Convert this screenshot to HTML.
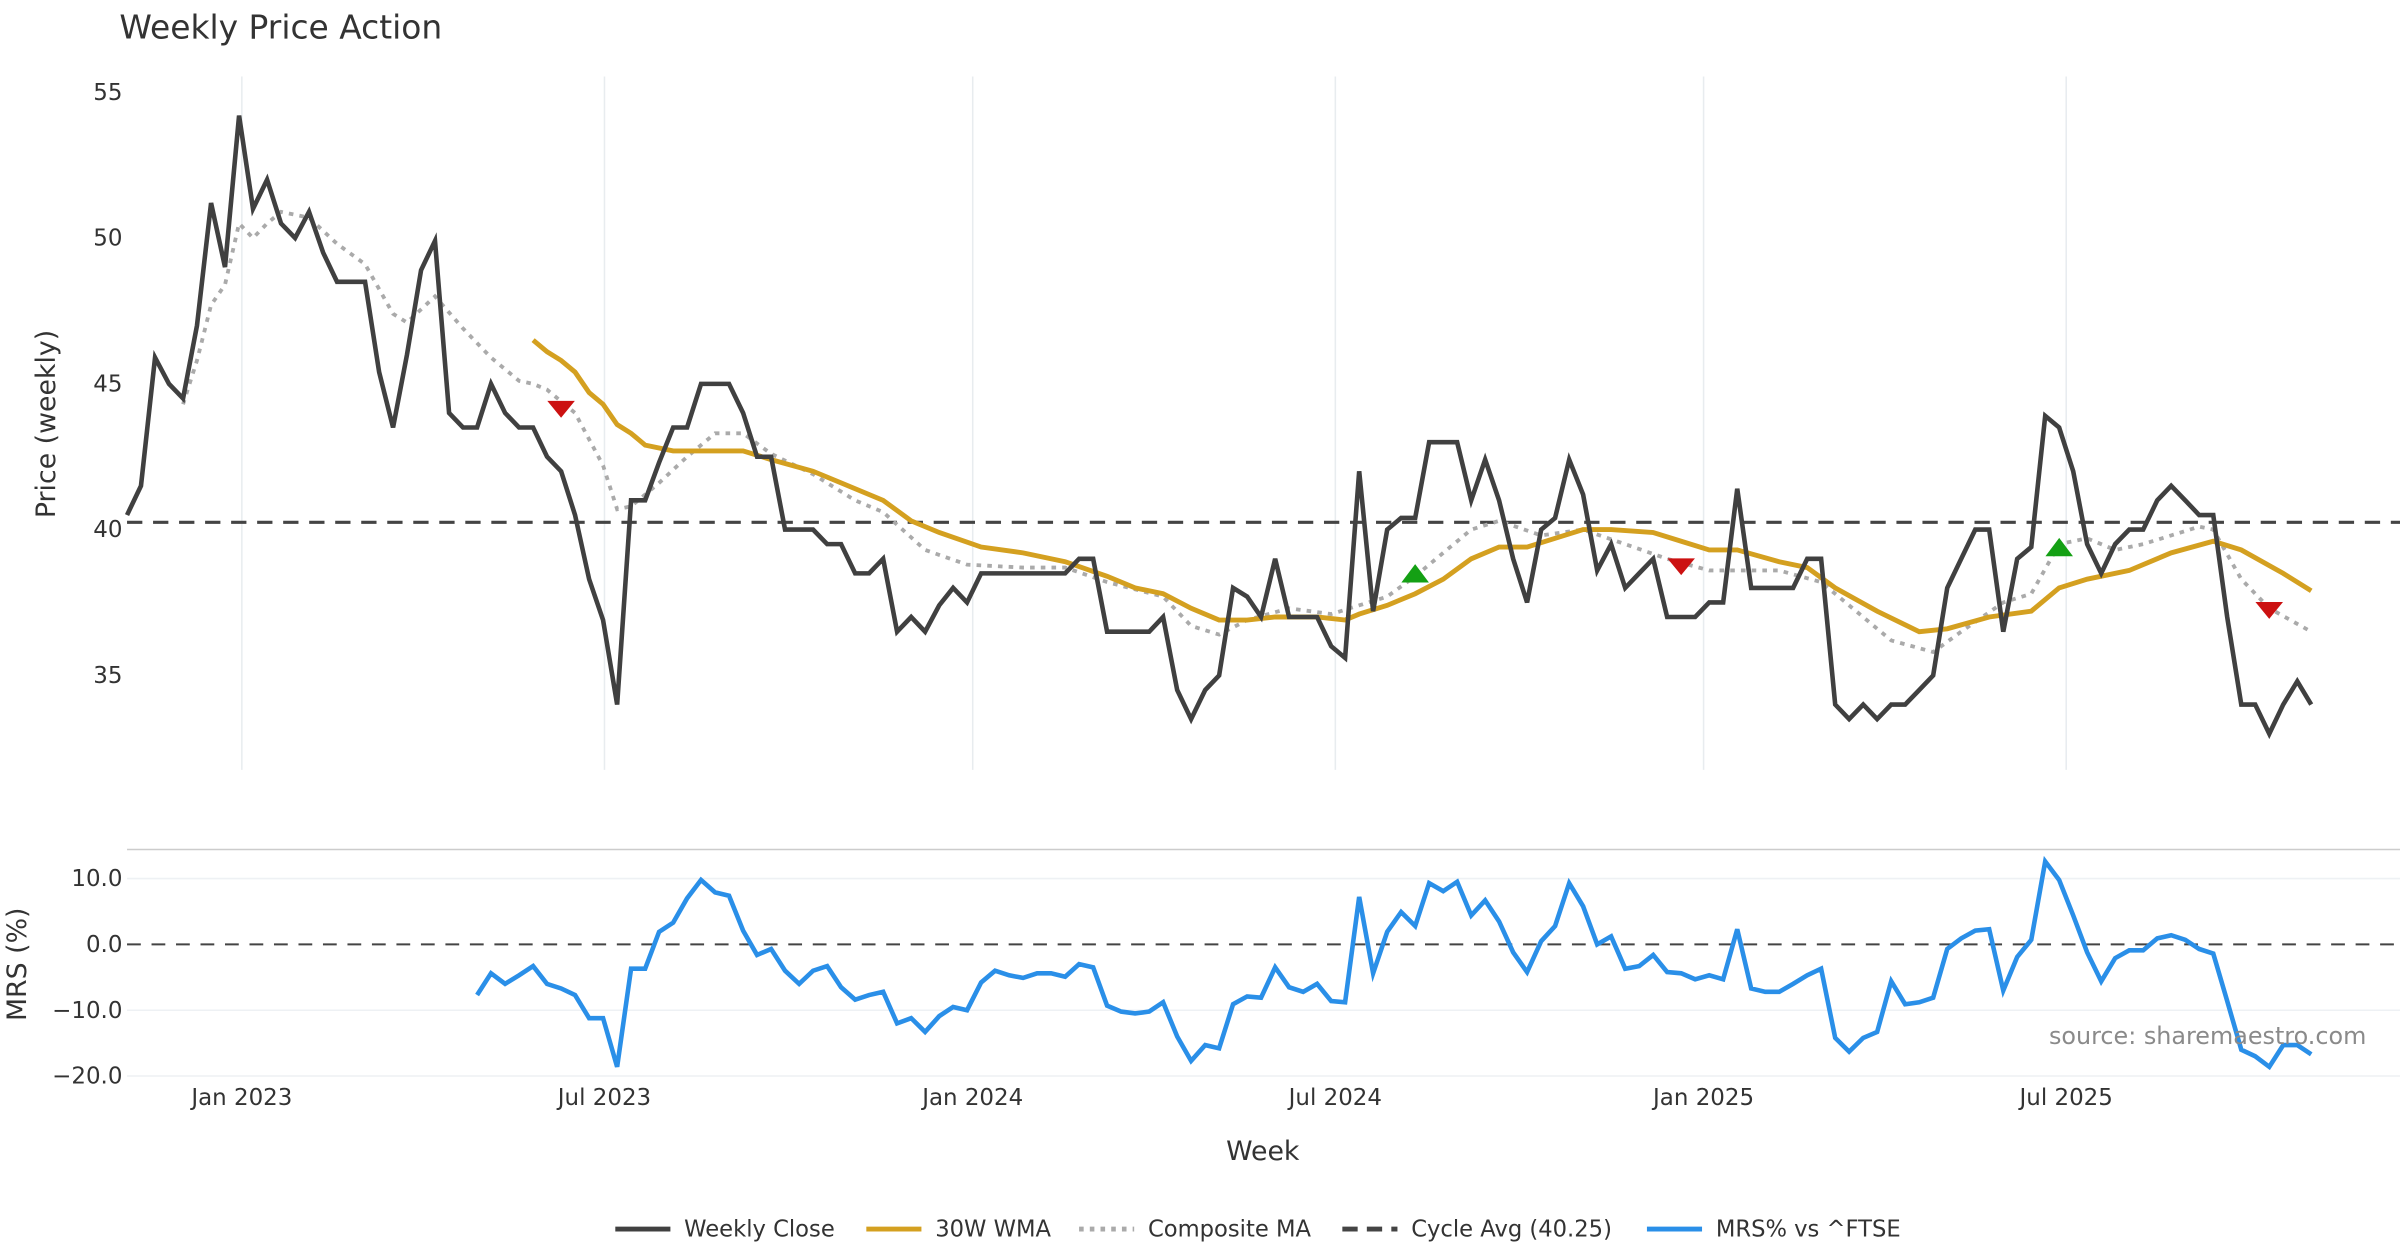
<!DOCTYPE html>
<html><head><meta charset="utf-8"><style>
html,body{margin:0;padding:0;background:#fff}
svg{display:block;font-family:"DejaVu Sans","Liberation Sans",sans-serif}
</style></head><body>
<svg id="chart" width="2400" height="1260" viewBox="0 0 1568 823.2" xmlns="http://www.w3.org/2000/svg">
<text x="78" y="25" font-size="21.5" fill="#333">Weekly Price Action</text>
<g id="grid"></g><g id="axes"></g><g id="series"></g><g id="markers"></g>
<text transform="translate(36,277) rotate(-90)" text-anchor="middle" font-size="17.5" fill="#333">Price (weekly)</text>
<text transform="translate(17,630) rotate(-90)" text-anchor="middle" font-size="17.5" fill="#333">MRS (%)</text>
<text x="825" y="758" text-anchor="middle" font-size="17.5" fill="#333">Week</text>
<text x="1546" y="682" text-anchor="end" font-size="15.6" fill="#8a8a8a">source: sharemaestro.com</text>
<g id="legend"></g>
</svg>
<script>
const closeVals=[40.5,41.5,45.9,45,44.5,47,51.2,49,54.2,51,
52,50.5,50,50.9,49.5,48.5,48.5,48.5,45.4,43.5,
46,48.9,49.9,44,43.5,43.5,45,44,43.5,43.5,
42.5,42,40.5,38.3,36.9,34,41,41,42.3,43.5,
43.5,45,45,45,44,42.5,42.5,40,40,40,
39.5,39.5,38.5,38.5,39,36.5,37,36.5,37.4,38,
37.5,38.5,38.5,38.5,38.5,38.5,38.5,38.5,39,39,
36.5,36.5,36.5,36.5,37,34.5,33.5,34.5,35,38,
37.7,37,39,37,37,37,36,35.6,42,37.2,
40,40.4,40.4,43,43,43,41,42.4,41,39,
37.5,40,40.4,42.4,41.2,38.6,39.5,38,38.5,39,
37,37,37,37.5,37.5,41.4,38,38,38,38,
39,39,34,33.5,34,33.5,34,34,34.5,35,
38,39,40,40,36.5,39,39.4,43.9,43.5,42,
39.5,38.5,39.5,40,40,41,41.5,41,40.5,40.5,
37,34,34,33,34,34.8,34];
const wmaWeeks=[29,30,31,32,33,34,35,36,37,39,41,44,46,49,51,54,56,58,61,64,67,70,72,74,76,78,80,82,85,87,88,90,92,94,96,98,100,102,104,106,109,111,113,115,118,120,122,125,128,130,133,136,138,140,143,146,149,151,154,156];
const wmaVals=[46.5,46.1,45.8,45.4,44.7,44.3,43.6,43.3,42.9,42.7,42.7,42.7,42.4,42,41.6,41,40.3,39.9,39.4,39.2,38.9,38.4,38,37.8,37.3,36.9,36.9,37,37,36.9,37.1,37.4,37.8,38.3,39,39.4,39.4,39.7,40,40,39.9,39.6,39.3,39.3,38.9,38.7,38,37.2,36.5,36.6,37,37.2,38,38.3,38.6,39.2,39.6,39.3,38.5,37.9];
const compWeeks=[4,5,6,7,8,9,10,11,13,15,17,19,20,22,24,26,28,29,30,32,34,35,36,38,40,42,44,46,49,52,54,57,60,64,67,70,74,76,78,80,83,86,88,90,92,94,96,98,101,104,107,110,113,115,118,121,123,126,129,131,134,136,138,140,142,144,146,148,149,151,153,156];
const compVals=[44.3,45.8,47.7,48.4,50.5,50,50.5,50.9,50.7,49.8,49.1,47.4,47.1,48,46.9,45.9,45.1,45,44.8,44,42.2,40.7,40.8,41.6,42.5,43.3,43.3,42.6,41.9,41,40.6,39.3,38.8,38.7,38.7,38.2,37.7,36.7,36.4,36.9,37.3,37.1,37.4,37.7,38.4,39.2,40,40.3,39.8,40,39.5,39,38.6,38.6,38.6,38.2,37.4,36.2,35.8,36.5,37.5,37.8,39.5,39.7,39.3,39.5,39.8,40.1,40,38.3,37.3,36.5];
const mrsStart=25;
const mrsVals=[-7.7,-4.4,-6,-4.7,-3.3,-6,-6.7,-7.7,-11.2,-11.2,
-18.6,-3.7,-3.7,1.9,3.3,7,9.8,7.9,7.4,2.1,
-1.6,-0.7,-4,-6,-4,-3.3,-6.5,-8.4,-7.7,-7.2,
-12,-11.2,-13.3,-10.9,-9.5,-10,-5.8,-4,-4.7,-5.1,
-4.4,-4.4,-4.9,-3,-3.5,-9.3,-10.2,-10.5,-10.2,-8.8,
-14,-17.7,-15.3,-15.8,-9.1,-7.9,-8.1,-3.5,-6.5,-7.2,
-6,-8.6,-8.8,7.2,-4.4,1.9,4.9,2.8,9.3,8.1,
9.5,4.4,6.7,3.5,-1.2,-4.2,0.5,2.8,9.3,5.8,
0,1.2,-3.7,-3.3,-1.6,-4.2,-4.4,-5.3,-4.7,-5.3,
2.3,-6.7,-7.2,-7.2,-6,-4.7,-3.7,-14.2,-16.3,-14.2,
-13.3,-5.6,-9.1,-8.8,-8.1,-0.7,0.9,2.1,2.3,-7,
-1.9,0.7,12.6,9.8,4.4,-1.2,-5.6,-2.1,-0.9,-0.9,
0.9,1.4,0.7,-0.7,-1.4,-8.6,-16,-17,-18.6,-15.3,
-15.3,-16.7];
const sellWeeks=[31,111,153];
const sellVals=[44.1,38.7,37.2];
const buyWeeks=[92,138];
const buyVals=[38.5,39.4];
const cycleAvg=40.25;
const priceTicks=[35,40,45,50,55];
const mrsTicks=[10,0,-10,-20];
const mrsTickLabels=["10.0","0.0","\u221210.0","\u221220.0"];
const dateTicks=["Jan 2023","Jul 2023","Jan 2024","Jul 2024","Jan 2025","Jul 2025"];
const dateTickWeeks=[8.2,34.1,60.4,86.3,112.6,138.5];

const NS="http://www.w3.org/2000/svg";
const X0=83,X1=1510;
const x=i=>X0+(X1-X0)*i/(closeVals.length-1);
const yP=v=>346-(v-40)*19.05;
const yM=v=>617-v*4.3;
function mk(tag,attrs,parent){const e=document.createElementNS(NS,tag);for(const k in attrs)e.setAttribute(k,attrs[k]);parent.appendChild(e);return e;}
const grid=document.getElementById('grid'),axes=document.getElementById('axes'),series=document.getElementById('series'),markers=document.getElementById('markers'),legend=document.getElementById('legend');

dateTickWeeks.forEach((w,k)=>{
  const g=mk('line',{x1:x(w),x2:x(w),y1:50,y2:503,stroke:'#e8ecef','stroke-width':1},grid);
  
  
  const t=mk('text',{x:x(w),y:722,'text-anchor':'middle','font-size':15,fill:'#333'},axes);
  t.textContent=dateTicks[k];
  
  
});
priceTicks.forEach(v=>{
  const t=mk('text',{x:80,y:yP(v)+5,'text-anchor':'end','font-size':15,fill:'#333'},axes);
  t.textContent=v;
  
  
});
const sep=mk('line',{x1:83,x2:1568,y1:555,y2:555,stroke:'#ccc','stroke-width':1},grid);


mrsTicks.forEach((v,k)=>{
  if(v!==0){const l=mk('line',{x1:83,x2:1568,y1:yM(v),y2:yM(v),stroke:'#eef1f4','stroke-width':1},grid);
  
  }
  const t=mk('text',{x:80,y:yM(v)+5,'text-anchor':'end','font-size':15,fill:'#333'},axes);
  t.textContent=mrsTickLabels[k];
  
  
});
const ca=mk('line',{x1:83,x2:1568,y1:yP(cycleAvg),y2:yP(cycleAvg),stroke:'#444','stroke-width':2,'stroke-dasharray':'10,7'},series);


const z=mk('line',{x1:83,x2:1568,y1:yM(0),y2:yM(0),stroke:'#444','stroke-width':1.3,'stroke-dasharray':'9,7'},series);



const pts=(ws,vs,yf)=>ws.map((w,k)=>x(w).toFixed(1)+','+yf(vs[k]).toFixed(1)).join(' ');
const cp=mk('polyline',{points:pts(compWeeks,compVals,yP),fill:'none',stroke:'#aaaaaa','stroke-width':2.5,'stroke-dasharray':'3,4'},series);


const wm=mk('polyline',{points:pts(wmaWeeks,wmaVals,yP),fill:'none',stroke:'#d4a020','stroke-width':3.2},series);


const cl=mk('polyline',{points:pts(closeVals.map((_,i)=>i),closeVals,yP),fill:'none',stroke:'#404040','stroke-width':3,'stroke-linejoin':'miter'},series);


const mr=mk('polyline',{points:pts(mrsVals.map((_,i)=>i+mrsStart),mrsVals,yM),fill:'none',stroke:'#2a8fe8','stroke-width':3},series);



sellWeeks.forEach((w,k)=>{const cx=x(w),cy=yP(sellVals[k]);
  const p=mk('polygon',{points:`${cx-9},${cy-6} ${cx+9},${cy-6} ${cx},${cy+5}`,fill:'#cc1111'},markers);
  
  });
buyWeeks.forEach((w,k)=>{const cx=x(w),cy=yP(buyVals[k]);
  const p=mk('polygon',{points:`${cx-9},${cy+6} ${cx+9},${cy+6} ${cx},${cy-6}`,fill:'#14a014'},markers);
  
  });

const legItems=[["Weekly Close","#404040",null,402],["30W WMA","#d4a020",null,566],["Composite MA","#aaaaaa","3,4",705],["Cycle Avg (40.25)","#444","10,6",877],["MRS% vs ^FTSE","#2a8fe8",null,1076]];
legItems.forEach(it=>{
  const l=mk('line',{x1:it[3],x2:it[3]+36,y1:803,y2:803,stroke:it[1],'stroke-width':3.2},legend);
  if(it[2])l.setAttribute('stroke-dasharray',it[2]);
  
  
  const t=mk('text',{x:it[3]+45,y:808,'font-size':14.8,fill:'#333'},legend);
  t.textContent=it[0];
  
  
});
</script>
</body></html>
